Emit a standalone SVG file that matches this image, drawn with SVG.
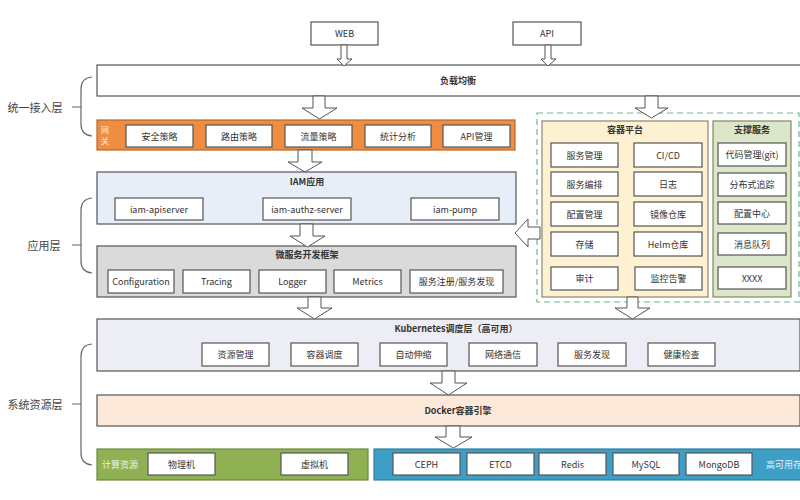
<svg xmlns="http://www.w3.org/2000/svg" width="800" height="500" viewBox="0 0 800 500">
<style>
text{font-family:"Noto Sans CJK SC","Liberation Sans",sans-serif;fill:#333;text-anchor:middle;dominant-baseline:central}
.it{font-size:9px}
.tt{font-size:9px;font-weight:bold}
.lb{font-size:11px;fill:#444}
.box{fill:#fff;stroke:#555;stroke-width:1.2}
.arr{fill:#fff;stroke:#555;stroke-width:1}
.br{fill:none;stroke:#666;stroke-width:1.2}
.wt{fill:#fff;font-size:8px;opacity:0.85}
</style>
<rect width="800" height="500" fill="#fff"/>

<g id="layer-labels">
<text class="lb" x="35" y="107">统一接入层</text>
<path class="br" d="M92,77 Q81,78 81,89 L81,124 Q81,135 92,136 M72,107 L81,107"/>
<text class="lb" x="44" y="245">应用层</text>
<path class="br" d="M92,198 Q81,199 81,210 L81,261 Q81,272 92,273 M72,245 L81,245"/>
<text class="lb" x="35" y="404">系统资源层</text>
<path class="br" d="M92,344 Q81,345 81,356 L81,453 Q81,464 92,465 M72,404 L81,404"/>
</g>

<g id="web"><rect class="box" x="311" y="22" width="67" height="23"/><text class="it" x="344.5" y="33.5">WEB</text></g>
<g id="api"><rect class="box" x="513" y="22" width="68" height="23"/><text class="it" x="547" y="33.5">API</text></g>

<g id="lb"><rect class="box" x="97" y="65" width="710" height="31"/><text class="tt" x="458" y="80">负载均衡</text></g>

<g id="gateway">
<rect x="97" y="120" width="418" height="30" fill="#EF8E42" stroke="#B8662A" stroke-width="1.2"/>
<text class="wt" x="105" y="129">网</text><text class="wt" x="105" y="140">关</text>
<rect class="box" x="126" y="125" width="67" height="22"/><text class="it" x="159.5" y="136">安全策略</text>
<rect class="box" x="206" y="125" width="66" height="22"/><text class="it" x="239" y="136">路由策略</text>
<rect class="box" x="285" y="125" width="67" height="22"/><text class="it" x="318.5" y="136">流量策略</text>
<rect class="box" x="365" y="125" width="66" height="22"/><text class="it" x="398" y="136">统计分析</text>
<rect class="box" x="443" y="125" width="67" height="22"/><text class="it" x="476.5" y="136">API管理</text>
</g>

<g id="iam">
<rect x="97" y="172" width="419" height="52" fill="#E8EEF8" stroke="#555" stroke-width="1.2"/>
<text class="tt" x="307" y="181">IAM应用</text>
<rect class="box" x="115" y="198" width="88" height="22"/><text class="it" x="159" y="209">iam-apiserver</text>
<rect class="box" x="263" y="198" width="88" height="22"/><text class="it" x="307" y="209">iam-authz-server</text>
<rect class="box" x="411" y="198" width="88" height="22"/><text class="it" x="455" y="209">iam-pump</text>
</g>

<g id="micro">
<rect x="97" y="246" width="419" height="51" fill="#DADADA" stroke="#555" stroke-width="1.2"/>
<text class="tt" x="307" y="254">微服务开发框架</text>
<rect class="box" x="108" y="270" width="66" height="23"/><text class="it" x="141" y="281.5">Configuration</text>
<rect class="box" x="183" y="270" width="67" height="23"/><text class="it" x="216.5" y="281.5">Tracing</text>
<rect class="box" x="259" y="270" width="67" height="23"/><text class="it" x="292.5" y="281.5">Logger</text>
<rect class="box" x="334" y="270" width="67" height="23"/><text class="it" x="367.5" y="281.5">Metrics</text>
<rect class="box" x="410" y="270" width="93" height="23"/><text class="it" x="456.5" y="281.5">服务注册/服务发现</text>
</g>

<g id="container-area">
<rect x="537" y="113" width="262" height="189" fill="none" stroke="#6DB59A" stroke-width="1.2" stroke-dasharray="6,4"/>
</g>

<g id="container-platform">
<rect x="542" y="121" width="166" height="176" fill="#FDF1D2" stroke="#8A8570" stroke-width="1.2"/>
<text class="tt" x="625" y="129">容器平台</text>
<rect class="box" x="551" y="143" width="67" height="24"/><text class="it" x="584.5" y="155">服务管理</text>
<rect class="box" x="634" y="143" width="68" height="24"/><text class="it" x="668" y="155">CI/CD</text>
<rect class="box" x="551" y="172" width="67" height="24"/><text class="it" x="584.5" y="184">服务编排</text>
<rect class="box" x="634" y="172" width="68" height="24"/><text class="it" x="668" y="184">日志</text>
<rect class="box" x="551" y="202" width="67" height="24"/><text class="it" x="584.5" y="214">配置管理</text>
<rect class="box" x="634" y="202" width="68" height="24"/><text class="it" x="668" y="214">镜像仓库</text>
<rect class="box" x="551" y="232" width="67" height="24"/><text class="it" x="584.5" y="244">存储</text>
<rect class="box" x="634" y="232" width="68" height="24"/><text class="it" x="668" y="244">Helm仓库</text>
<rect class="box" x="551" y="267" width="67" height="23"/><text class="it" x="584.5" y="278.5">审计</text>
<rect class="box" x="635" y="267" width="67" height="23"/><text class="it" x="668.5" y="278.5">监控告警</text>
</g>

<g id="support">
<rect x="713" y="121" width="78" height="176" fill="#DCE6C8" stroke="#7D8A65" stroke-width="1.2"/>
<text class="tt" x="752" y="129">支撑服务</text>
<rect class="box" x="718" y="143" width="68" height="23"/><text class="it" x="752" y="154.5">代码管理(git)</text>
<rect class="box" x="718" y="173" width="68" height="23"/><text class="it" x="752" y="184.5">分布式追踪</text>
<rect class="box" x="718" y="202" width="68" height="22"/><text class="it" x="752" y="213">配置中心</text>
<rect class="box" x="718" y="233" width="68" height="22"/><text class="it" x="752" y="244">消息队列</text>
<rect class="box" x="718" y="267" width="68" height="22"/><text class="it" x="752" y="278">XXXX</text>
</g>

<g id="k8s">
<rect x="97" y="319" width="703" height="52" fill="#EDEDF5" stroke="#555" stroke-width="1.2"/>
<text class="tt" x="456" y="328">Kubernetes调度层（高可用）</text>
<rect class="box" x="202" y="343" width="67" height="23"/><text class="it" x="235.5" y="354.5">资源管理</text>
<rect class="box" x="291" y="343" width="67" height="23"/><text class="it" x="324.5" y="354.5">容器调度</text>
<rect class="box" x="380" y="343" width="67" height="23"/><text class="it" x="413.5" y="354.5">自动伸缩</text>
<rect class="box" x="469" y="343" width="68" height="23"/><text class="it" x="503" y="354.5">网络通信</text>
<rect class="box" x="558" y="343" width="68" height="23"/><text class="it" x="592" y="354.5">服务发现</text>
<rect class="box" x="648" y="343" width="67" height="23"/><text class="it" x="681.5" y="354.5">健康检查</text>
</g>

<g id="docker">
<rect x="97" y="395" width="703" height="31" fill="#FCE9DA" stroke="#555" stroke-width="1.2"/>
<text class="tt" x="458" y="410.5">Docker容器引擎</text>
</g>

<g id="compute">
<rect x="97" y="449" width="271" height="31" fill="#8FB153" stroke="#6A8A3A" stroke-width="1.2"/>
<text class="wt" x="120" y="464.5" style="font-size:9px">计算资源</text>
<rect class="box" x="148" y="453" width="67" height="22"/><text class="it" x="181.5" y="464">物理机</text>
<rect class="box" x="281" y="453" width="67" height="22"/><text class="it" x="314.5" y="464">虚拟机</text>
</g>

<g id="storage">
<rect x="374" y="449" width="430" height="31" fill="#3E9FC6" stroke="#2C7FA0" stroke-width="1.2"/>
<rect class="box" x="393" y="453" width="67" height="22"/><text class="it" x="426.5" y="464">CEPH</text>
<rect class="box" x="467" y="453" width="67" height="22"/><text class="it" x="500.5" y="464">ETCD</text>
<rect class="box" x="539" y="453" width="67" height="22"/><text class="it" x="572.5" y="464">Redis</text>
<rect class="box" x="613" y="453" width="66" height="22"/><text class="it" x="646" y="464">MySQL</text>
<rect class="box" x="686" y="453" width="66" height="22"/><text class="it" x="719" y="464">MongoDB</text>
<text class="wt" x="766" y="464.5" style="font-size:9px;text-anchor:start">高可用存储</text>
</g>

<g id="connectors">
<path class="arr" d="M341,45 L347,45 L347,59 L352,59 L344,66 L337,59 L341,59 Z"/>
<path class="arr" d="M545,45 L551,45 L551,59 L556,59 L548,66 L541,59 L545,59 Z"/>
<path class="arr" d="M313,96 L325,96 L325,108 L337,108 L319.5,119 L302,108 L313,108 Z"/>
<path class="arr" d="M645,96 L658,96 L658,108 L668,108 L651.5,118 L635,108 L645,108 Z"/>
<path class="arr" d="M298,150 L312,150 L312,162 L322,162 L305,172 L288,162 L298,162 Z"/>
<path class="arr" d="M300,224 L313,224 L313,236 L325,236 L307.5,247 L290,236 L300,236 Z"/>
<path class="arr" d="M308,297 L321,297 L321,308 L332,308 L314.5,319 L297,308 L308,308 Z"/>
<path class="arr" d="M627,297 L638,297 L638,308 L650,308 L632.5,319 L615,308 L627,308 Z"/>
<path class="arr" d="M442,371 L455,371 L455,383 L467,383 L448.5,395 L430,383 L442,383 Z"/>
<path class="arr" d="M446,426 L460,426 L460,437 L472,437 L453.5,448 L435,437 L446,437 Z"/>
<path class="arr" d="M540,227 L540,239 L528,239 L528,247 L515,233 L528,219 L528,227 Z"/>
</g>
</svg>
